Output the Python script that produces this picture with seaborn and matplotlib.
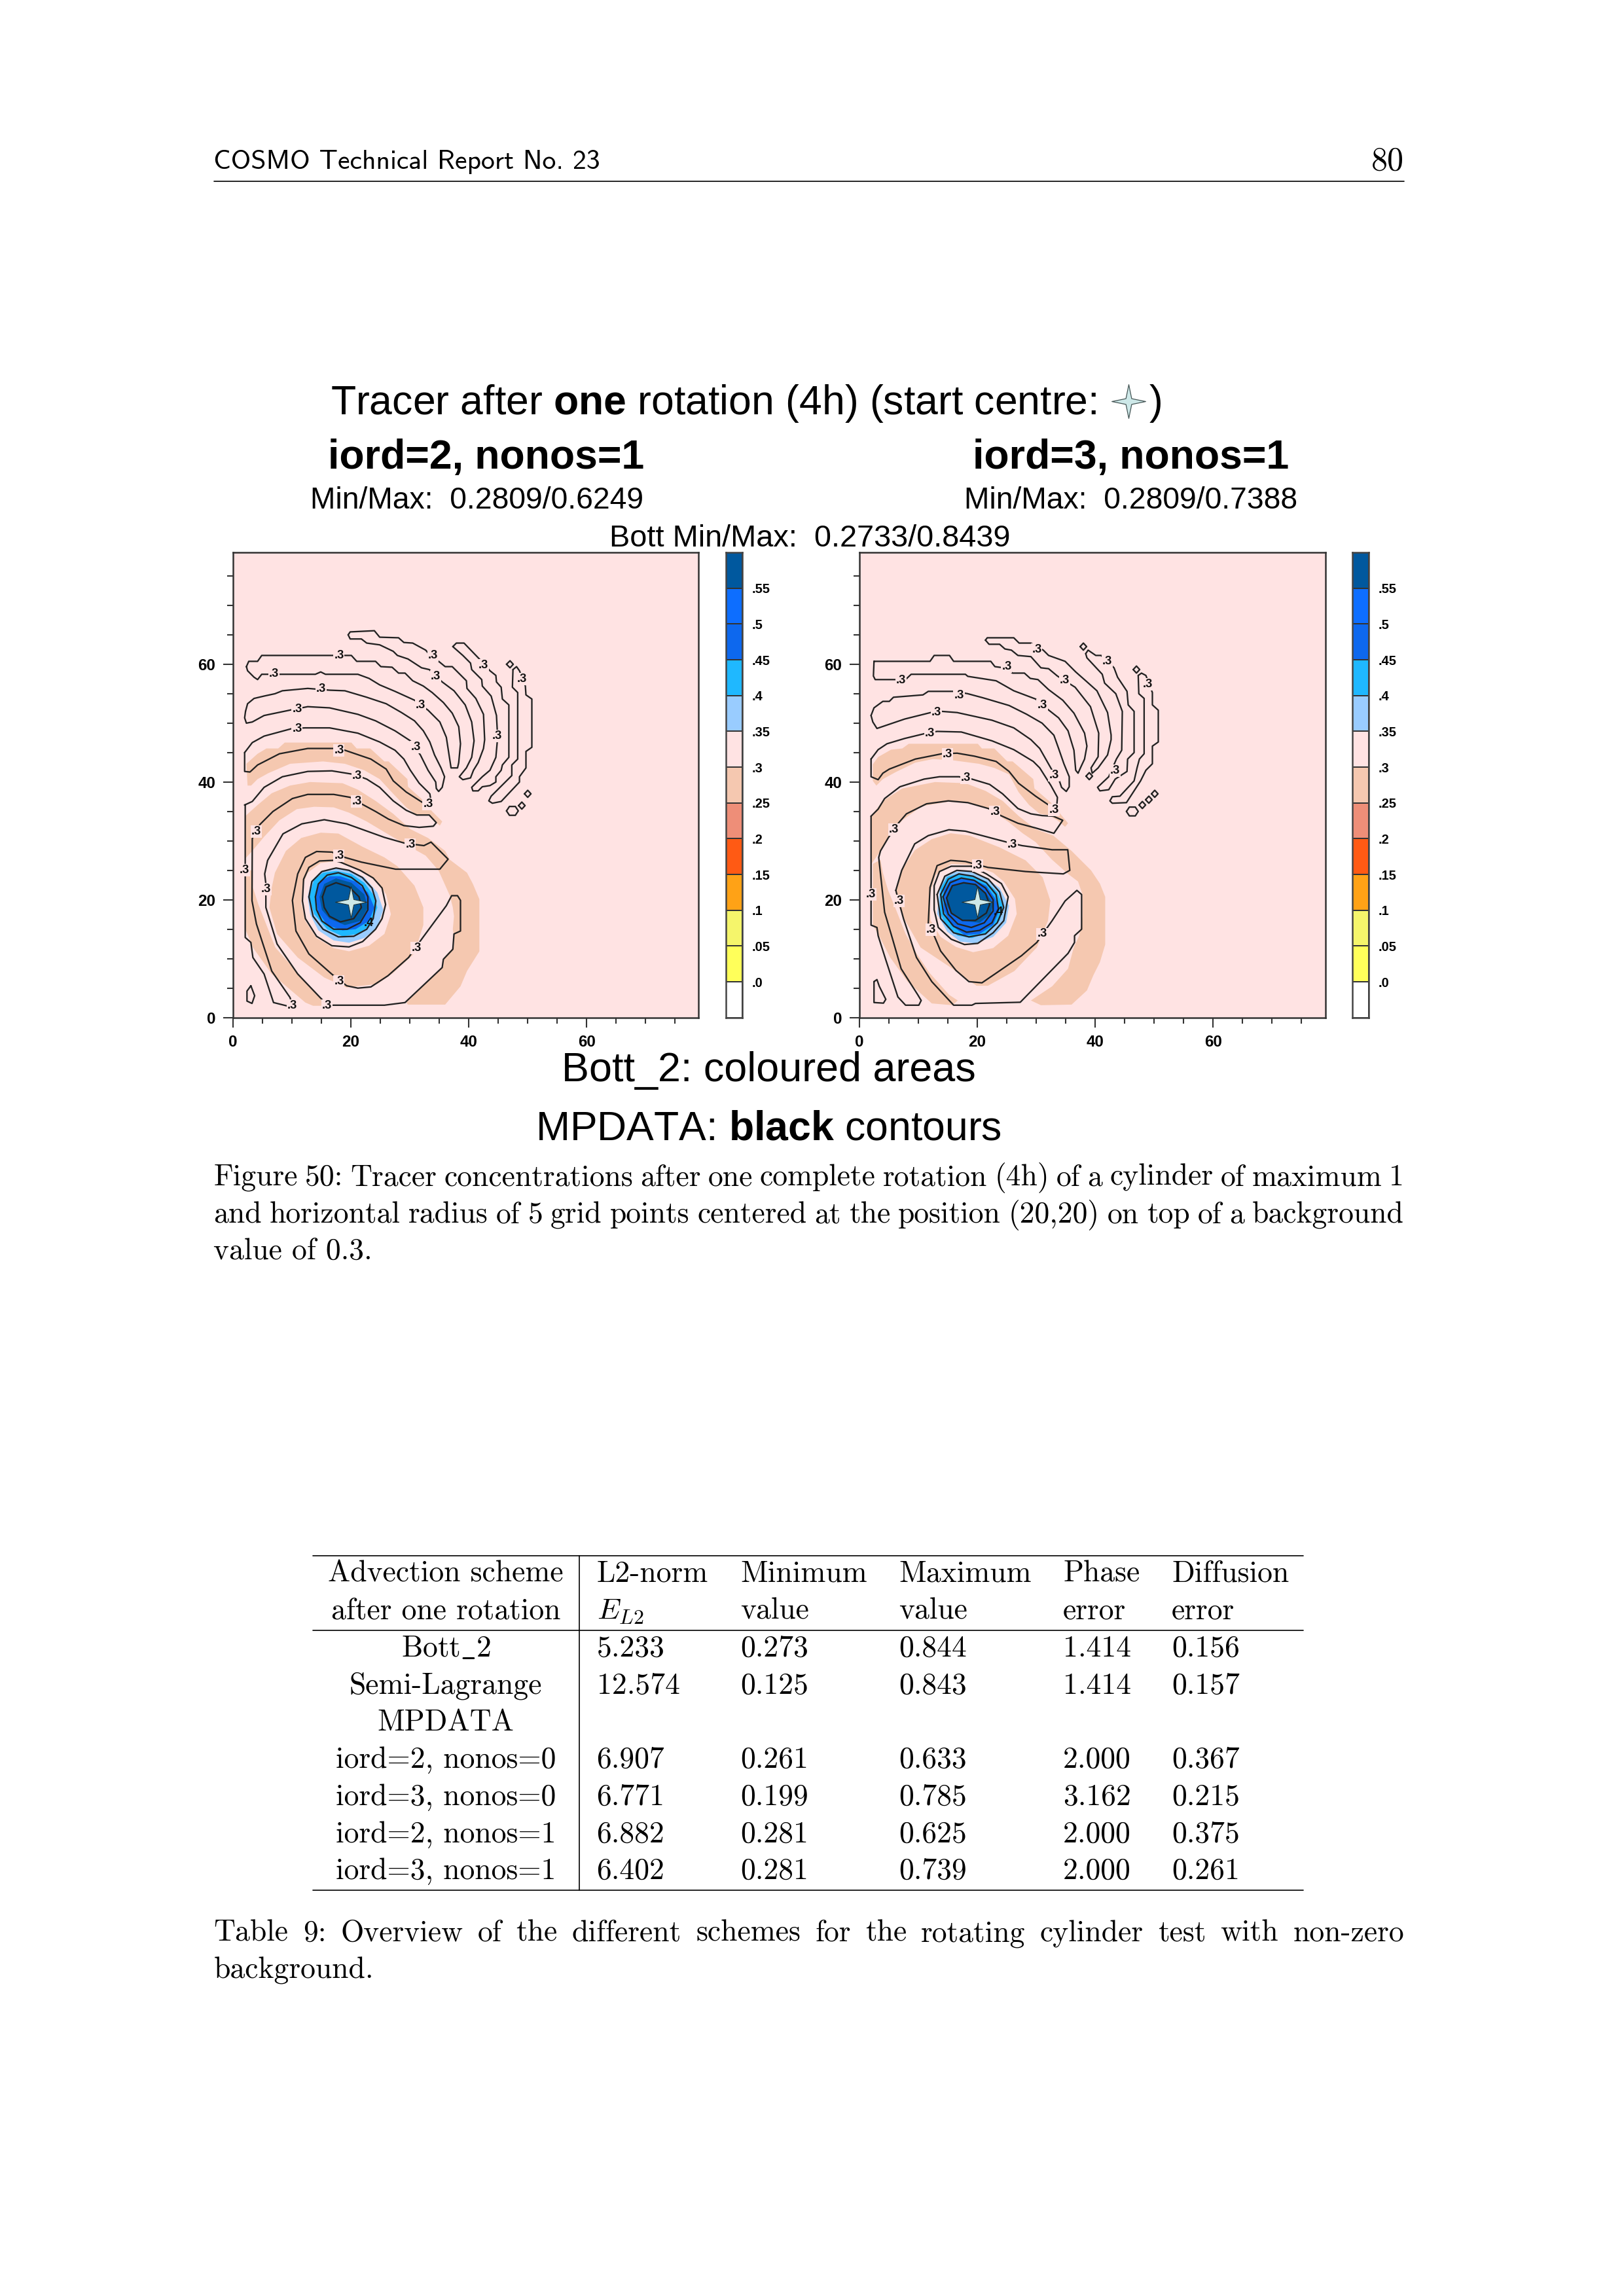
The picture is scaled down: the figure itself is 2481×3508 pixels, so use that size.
import numpy as np
import matplotlib
matplotlib.use("Agg")
import matplotlib.pyplot as plt
import seaborn as sns
from matplotlib.colors import ListedColormap
from matplotlib.lines import Line2D
from matplotlib.path import Path

W, H = 2481, 3508

# colour levels of the shaded field, lowest first
level_labels = [".0", ".05", ".1", ".15", ".2", ".25", ".3", ".35", ".4", ".45", ".5", ".55"]
level_colors = ["#FFFFFF", "#FFFF5A", "#F5F56B", "#FFA216", "#FF5A14", "#EE8E78", "#F5C8B0",
                "#FFE3E3", "#99CCFF", "#1FB8FF", "#0D68EE", "#0D6EFF", "#00589E"]
PINK, PEACH = level_colors[7], level_colors[6]
LBLUE, CYAN, BLUE, DARK = level_colors[8], level_colors[9], level_colors[10], level_colors[12]

# ---- left panel (iord=2) ----
L_finger_a = [(19.55,65.0),(19.9,65.5),(24.0,65.7),(24.9,64.6),(28.1,64.5),(29.0,63.7),(30.5,63.6),(32.7,62.4),(33.3,61.7),(34.9,60.5),(36.0,59.6),(37.2,59.6),(39.6,57.2),(39.7,55.9),(41.2,54.2),(42.5,51.5),(42.7,47.2),(42.5,45.7),(41.6,43.3),(40.8,42.0),(40.3,40.7),(39.0,40.4),(38.4,40.9),(39.6,42.4),(40.5,44.2),(40.9,47.0),(40.5,50.2),(39.4,53.1),(37.5,55.5),(35.5,57.0),(33.3,59.1),(32.0,59.4),(29.7,60.9),(27.9,61.5),(27.2,62.2),(24.9,63.3),(22.7,63.6),(21.8,64.3),(19.9,64.3)]
L_finger_b = [(37.3,63.0),(37.9,63.6),(39.2,63.6),(41.8,60.9),(43.6,58.9),(44.6,58.1),(44.7,57.0),(45.5,56.1),(45.7,54.1),(46.8,53.1),(46.8,44.2),(45.7,42.9),(45.5,42.0),(44.6,40.9),(44.6,40.0),(43.6,39.4),(42.3,39.2),(41.6,38.5),(40.7,38.5),(40.5,39.1),(42.3,40.9),(43.6,42.0),(44.6,44.2),(44.9,47.6),(44.7,51.3),(43.8,54.6),(42.3,56.3),(42.2,57.4),(40.5,59.1),(40.3,60.2),(39.0,61.5)]
L_finger_c = [(47.5,59.1),(48.1,59.6),(48.6,58.9),(49.6,56.3),(49.7,54.8),(50.7,54.1),(50.7,45.9),(49.7,45.2),(49.7,42.4),(48.6,40.9),(48.6,40.0),(45.5,36.7),(44.0,36.4),(43.4,36.8),(43.8,37.6),(47.3,41.1),(47.3,42.9),(48.3,43.9),(48.3,55.2),(47.4,56.1)]
L_finger_d = [(2.3,59.6),(2.7,60.5),(4.2,60.5),(4.9,61.5),(17.0,61.5),(20.1,61.5),(21.0,60.5),(24.2,60.5),(25.1,59.6),(27.0,59.5),(28.1,58.5),(29.2,58.5),(30.5,57.2),(32.3,56.3),(33.8,55.2),(35.7,53.5),(37.2,51.7),(38.3,49.4),(38.6,46.5),(38.3,43.3),(38.1,42.4),(37.0,42.4),(36.6,45.0),(36.2,47.6),(35.1,50.2),(33.1,52.2),(30.8,53.9),(27.5,55.4),(24.9,56.5),(23.1,57.6),(21.2,58.3),(15.7,58.3),(14.9,58.7),(14.0,58.3),(7.9,58.3),(4.9,58.3),(4.2,57.4),(3.6,57.8),(2.5,58.9)]
L_finger_e = [(2.15,52.0),(2.5,53.3),(3.6,54.2),(5.3,54.6),(7.15,55.0),(8.4,55.5),(12.7,55.9),(16.4,55.6),(19.0,55.5),(22.7,54.4),(26.0,53.3),(28.6,51.8),(30.8,50.4),(32.3,48.7),(33.4,46.8),(34.2,44.6),(35.3,42.4),(35.9,40.9),(35.5,39.1),(34.9,38.4),(34.5,38.9),(34.4,40.0),(33.1,42.0),(31.8,44.6),(30.1,47.0),(27.5,48.7),(24.2,50.4),(21.2,51.5),(16.4,52.6),(12.7,52.8),(10.1,52.3),(5.3,51.3),(3.3,50.2),(2.3,50.0),(2.0,50.9)]
L_finger_f = [(2.0,45.0),(3.3,46.7),(5.3,47.8),(10.1,49.1),(12.3,49.2),(16.4,49.2),(21.2,48.3),(24.9,46.8),(27.5,45.4),(29.0,43.9),(30.1,42.0),(31.6,39.8),(33.4,38.0),(33.6,36.8),(33.1,36.3),(32.2,36.5),(29.4,38.3),(27.2,40.2),(26.0,42.2),(23.4,43.9),(19.0,45.4),(17.0,45.7),(12.7,45.7),(7.9,44.8),(4.2,42.9),(2.9,41.7),(2.0,41.8)]
L_finger_g = [(2.0,36.1),(3.3,36.7),(5.3,39.1),(8.4,40.9),(12.7,41.8),(16.8,41.9),(20.5,41.3),(22.7,40.5),(24.9,39.1),(27.2,36.8),(29.4,35.2),(31.2,34.4),(33.3,34.4),(34.5,33.1),(34.0,32.5),(31.6,32.3),(29.0,32.6),(26.4,33.7),(24.2,35.0),(21.8,36.3),(19.9,37.4),(17.1,37.9),(12.7,37.9),(10.1,37.2),(6.8,35.0),(4.6,32.8),(3.3,30.4),(3.25,19.85),(4.0,15.9),(6.6,7.9),(9.7,3.4),(10.1,2.0),(9.1,2.0),(6.9,2.55),(5.3,7.4),(3.4,10.2),(3.06,12.76),(2.1,13.6),(2.1,36.1)]
L_loop_h = [(5.6,22.7),(5.4,24.4),(5.9,26.7),(8.5,31.2),(11.7,32.9),(15.5,33.6),(19.3,32.9),(25.7,30.6),(29.2,29.6),(32.4,29.2),(33.6,29.8),(36.5,26.9),(35.1,25.2),(27.6,25.2),(21.8,26.4),(19.0,27.2),(16.8,28.1),(14.2,28.2),(12.3,27.2),(11.0,24.4),(10.1,19.9),(10.7,14.7),(12.9,10.8),(16.75,7.4),(19.3,5.4),(21.2,5.0),(23.4,5.2),(26.3,7.1),(29.8,10.2),(32.0,13.3),(36.2,19.0),(37.1,20.7),(38.1,20.7),(38.6,19.9),(38.6,14.7),(37.5,14.2),(37.3,11.6),(35.7,9.9),(35.5,8.5),(29.2,2.55),(25.7,2.1),(16.1,2.1),(14.8,3.4),(11.0,7.4),(7.5,12.5),(5.6,18.7)]
L_ring_i = [(17.1,26.7),(14.7,26.6),(12.9,25.5),(12.0,23.5),(11.8,19.8),(12.3,16.8),(14.2,13.8),(16.8,12.2),(19.7,12.0),(22.0,12.9),(24.2,15.0),(25.3,16.8),(25.9,19.2),(25.3,22.0),(23.8,23.7),(21.6,25.0),(18.2,26.4)]
L_ring_j = [(12.9,20.5),(13.4,23.1),(15.1,24.8),(17.5,25.4),(19.7,25.0),(21.95,23.8),(23.6,22.0),(24.25,19.8),(23.8,16.8),(22.7,15.0),(20.5,13.8),(17.9,13.7),(15.3,15.0),(13.6,17.2)]
L_ring_k = [(14.0,20.5),(14.5,22.7),(16.0,24.2),(17.9,24.6),(20.1,23.8),(21.95,22.4),(22.9,20.5),(22.9,18.3),(21.6,16.1),(19.4,15.0),(17.1,15.0),(15.1,16.4),(14.2,18.3)]
L_ring_l = [(15.2,20.5),(15.8,22.2),(17.5,22.9),(19.7,22.2),(21.4,20.5),(21.8,18.7),(20.5,16.8),(18.25,16.25),(16.4,17.2),(15.5,18.7)]
L_oval = [(3.06,5.4),(3.7,3.7),(3.25,2.4),(2.4,2.8),(2.4,4.5)]
L_dots = [(46.4,60.0),(47.0,60.6),(47.55,60.0),(47.0,59.4)], [(49.45,38.0),(50.0,38.6),(50.55,38.0),(50.0,37.4)], [(48.45,36.0),(49.0,36.6),(49.55,36.0),(49.0,35.4)], [(46.4,35.1),(46.9,35.85),(47.9,35.85),(48.4,35.1),(47.9,34.35),(46.9,34.35)]
L_contours = [L_finger_a, L_finger_b, L_finger_c, L_finger_d, L_finger_e, L_finger_f, L_finger_g,
              L_loop_h, L_ring_i, L_ring_j, L_ring_k, L_ring_l, L_oval, *L_dots]

L_peach_band = [(2.3,43.1),(4.2,44.8),(5.7,45.7),(7.7,45.7),(8.8,46.7),(20.1,46.7),(21.0,45.7),(23.3,45.7),(25.7,43.5),(26.4,43.5),(29.6,40.5),(29.7,39.2),(32.7,36.5),(33.8,35.0),(35.5,33.3),(35.1,32.6),(34.0,33.5),(33.3,34.4),(31.2,34.4),(29.4,35.7),(27.2,38.0),(24.9,40.5),(22.3,42.0),(19.0,43.1),(15.3,43.5),(9.7,43.1),(6.0,41.5),(4.2,40.5),(3.1,39.4),(2.5,39.4)]
L_peach_arc = [(2.1,34.2),(4.2,36.1),(6.6,38.1),(9.7,39.4),(13.1,40.0),(18.6,39.8),(21.2,38.7),(24.2,36.8),(27.2,34.6),(30.1,32.0),(33.1,30.5),(36.0,28.3),(36.8,26.8),(39.7,24.6),(40.7,22.7),(41.8,20.1),(41.8,11.25),(39.7,7.9),(38.6,5.3),(36.0,2.2),(29.7,2.2),(29.4,2.55),(35.7,8.7),(35.7,10.1),(37.5,12.0),(37.5,13.8),(37.3,15.0),(37.5,17.2),(37.3,18.7),(36.8,20.7),(34.9,24.95),(32.7,27.5),(28.6,29.8),(25.7,31.5),(22.7,33.3),(19.7,34.8),(17.1,35.7),(13.8,35.8),(10.85,35.4),(7.9,33.5),(5.3,30.7),(3.3,28.3),(2.1,27.0)]
L_peach_side = [(2.1,25.0),(2.0,15.3),(3.4,11.9),(6.6,7.4),(12.3,2.55),(13.6,2.0),(16.75,2.0),(15.2,3.1),(11.7,6.8),(7.2,11.9),(4.3,19.3),(3.4,22.1),(3.4,25.0)]
L_peach_core = [(6.6,22.1),(6.2,18.7),(7.5,14.2),(11.0,10.2),(15.5,6.8),(19.3,5.1),(24.5,5.7),(27.1,7.5),(30.8,10.9),(32.3,15.7),(32.3,18.7),(30.8,22.4),(27.9,25.7),(25.7,27.2),(22.0,29.0),(17.9,31.25),(14.9,31.4),(11.6,30.5),(9.0,28.3),(7.14,24.6)]
L_pink_hole = [(11.8,22.4),(12.7,24.6),(14.9,26.25),(17.9,26.6),(21.6,25.0),(24.5,23.1),(26.0,20.9),(26.8,17.55),(25.7,14.2),(23.1,12.2),(19.7,11.25),(17.1,11.8),(14.2,13.5),(12.3,16.4),(11.6,19.4)]
L_lblue = [(12.7,20.5),(13.25,23.1),(14.9,24.8),(17.1,25.4),(19.7,25.1),(22.3,23.8),(24.5,21.25),(25.5,18.3),(24.5,15.3),(22.3,13.5),(19.7,12.7),(17.1,13.1),(14.5,14.8),(13.1,17.55)]
L_cyan = [(12.9,20.5),(13.8,23.5),(15.3,24.6),(17.5,24.9),(20.1,24.4),(22.3,22.9),(23.8,20.9),(24.5,18.7),(23.4,15.7),(21.2,14.2),(18.6,13.8),(16.0,15.0),(13.8,17.55)]
L_blue = [(14.0,20.5),(14.7,23.1),(16.4,24.0),(18.25,24.0),(20.8,23.1),(22.9,21.25),(24.0,18.7),(23.1,16.4),(20.8,15.0),(18.6,14.8),(16.0,15.7),(14.5,17.9)]
L_dark = [(14.7,20.5),(15.5,22.7),(17.5,23.65),(20.1,22.9),(22.3,20.9),(22.9,18.7),(21.6,16.4),(19.0,15.7),(16.4,16.8),(15.1,18.3)]
L_fills = [(L_peach_band, PEACH), (L_peach_arc, PEACH), (L_peach_side, PEACH), (L_peach_core, PEACH),
           (L_pink_hole, PINK), (L_lblue, LBLUE), (L_cyan, CYAN), (L_blue, BLUE), (L_dark, DARK)]

L_labels = [(18.0,61.5),(33.95,61.5),(42.5,59.8),(49.0,57.5),(7.0,58.4),(34.4,57.9),(15.0,55.8),(31.85,53.0),(10.9,52.4),(44.8,47.8),(10.9,49.0),(31.0,45.9),(18.0,45.4),(21.1,41.0),(33.1,36.3),(21.0,36.7),(4.0,31.6),(30.1,29.4),(18.0,27.5),(2.0,25.0),(5.6,21.8),(31.1,11.8),(18.0,6.1),(10.1,2.0),(16.0,2.0)]
L_label_4 = (23.1, 16.0)

# ---- right panel (iord=3) ----
R_finger_a = [(21.4,64.1),(21.7,64.5),(26.2,64.5),(27.1,63.6),(29.1,63.6),(31.2,62.4),(32.1,61.5),(34.9,60.5),(36.7,58.7),(38.4,57.2),(40.3,55.5),(42.1,51.8),(42.7,48.0),(42.7,47.2),(42.1,44.6),(40.5,42.4),(39.5,41.5),(39.3,42.4),(40.5,44.3),(40.6,48.3),(39.2,52.8),(36.6,56.1),(33.6,58.0),(32.1,59.25),(30.8,59.4),(29.1,61.3),(26.9,61.5),(25.8,62.4),(24.7,62.6),(23.8,63.4),(22.0,63.4)]
R_finger_b = [(38.4,61.8),(38.8,62.4),(40.1,61.5),(41.0,61.5),(43.2,59.4),(43.8,57.8),(45.4,55.4),(45.6,53.1),(46.6,52.0),(46.6,45.0),(45.5,43.9),(45.4,41.8),(43.4,40.5),(42.3,38.7),(40.8,38.5),(40.4,39.1),(42.3,40.9),(43.6,43.9),(44.5,45.4),(44.6,52.0),(43.5,55.0),(41.6,56.8),(41.2,58.3),(38.6,61.1)]
R_finger_c = [(47.3,58.1),(47.85,58.5),(48.6,58.1),(49.7,55.2),(49.7,53.1),(50.7,52.2),(50.7,46.8),(49.7,46.1),(49.7,43.1),(48.6,42.0),(47.7,40.2),(45.3,36.5),(42.9,36.4),(42.5,36.8),(42.9,37.5),(44.2,37.6),(46.6,40.2),(47.1,42.4),(47.5,43.9),(48.3,44.8),(48.3,54.2),(47.4,55.0)]
R_finger_d = [(2.5,60.5),(12.0,60.5),(12.7,61.5),(15.3,61.5),(16.0,60.5),(22.3,60.5),(23.0,59.6),(24.5,59.4),(26.0,58.5),(28.0,58.5),(29.0,57.6),(30.3,57.4),(32.1,55.7),(34.5,53.9),(36.4,51.7),(38.2,48.3),(38.6,46.1),(38.2,43.9),(37.5,42.4),(37.1,41.5),(36.7,42.0),(36.4,45.4),(35.4,48.7),(33.8,50.9),(31.9,52.4),(29.9,54.1),(26.2,55.5),(23.2,57.2),(18.4,57.95),(18.0,58.3),(8.8,58.3),(7.85,57.4),(2.7,57.4),(2.4,58.0)]
R_finger_e = [(2.0,51.3),(2.5,52.6),(4.0,53.7),(5.1,53.7),(5.8,54.4),(10.8,54.8),(11.7,55.4),(16.2,55.4),(18.4,55.0),(21.0,54.3),(25.4,53.0),(28.4,51.5),(31.0,50.0),(33.0,47.95),(33.8,45.7),(34.7,43.1),(35.6,40.9),(35.6,39.2),(35.1,38.4),(34.3,39.1),(34.0,40.0),(32.7,42.0),(30.6,45.7),(29.1,47.2),(26.2,49.2),(22.5,50.5),(16.6,51.8),(14.0,52.0),(12.1,51.8),(7.7,50.7),(3.0,49.1),(2.3,50.2)]
R_finger_f = [(2.0,43.9),(3.2,45.5),(4.7,46.5),(7.7,47.4),(11.4,48.3),(13.2,48.6),(17.3,48.5),(22.5,47.0),(26.2,45.5),(29.5,43.5),(30.6,42.4),(32.5,39.4),(33.6,37.4),(33.5,36.1),(32.1,36.1),(29.9,37.6),(27.0,39.8),(25.4,41.8),(23.2,43.5),(19.5,44.4),(16.6,44.9),(14.0,44.8),(9.5,43.9),(5.1,42.2),(4.0,41.5),(3.2,40.4),(2.0,40.9)]
R_finger_g = [(2.0,34.2),(3.2,35.4),(4.3,37.2),(6.9,39.2),(11.0,40.5),(13.6,40.9),(16.9,40.9),(19.1,40.5),(22.1,39.6),(24.3,38.0),(26.9,35.5),(29.1,34.6),(31.0,34.3),(32.9,34.2),(34.5,33.5),(33.0,31.3),(29.9,32.2),(26.9,33.0),(24.0,34.3),(21.9,35.5),(18.4,36.5),(15.1,36.8),(11.4,36.3),(8.0,34.6),(6.7,33.1),(4.9,30.5),(3.6,28.3),(3.3,27.2),(4.3,17.9),(5.6,13.5),(7.1,8.3),(9.9,3.9),(10.5,2.9),(10.1,2.1),(7.85,2.1),(6.55,3.5),(4.5,9.8),(3.2,13.9),(3.0,15.3),(2.0,15.7),(2.0,28.3)]
R_loop_h = [(6.2,21.6),(7.2,25.0),(9.4,29.5),(11.7,30.9),(15.2,31.9),(18.0,31.65),(25.0,29.8),(27.6,29.2),(32.7,28.5),(35.35,28.5),(35.7,25.0),(34.6,24.4),(28.2,24.8),(21.8,25.5),(18.0,26.5),(15.5,26.7),(13.2,25.8),(12.0,22.1),(11.7,15.9),(12.7,13.9),(13.8,11.3),(16.4,8.0),(18.6,6.1),(20.8,5.9),(23.0,7.4),(27.5,10.5),(30.1,12.75),(32.7,16.45),(34.9,19.8),(36.9,21.6),(37.7,20.9),(37.7,15.0),(36.5,13.9),(36.5,12.75),(35.4,10.9),(27.3,2.6),(19.7,2.4),(19.1,2.1),(16.0,2.1),(12.3,6.1),(9.7,10.2),(7.5,16.8),(6.9,19.0)]
R_ring_i = [(19.0,25.7),(15.6,25.7),(13.6,24.8),(12.7,22.4),(12.7,18.3),(13.4,15.3),(15.6,13.3),(17.85,12.4),(20.1,12.6),(22.7,14.4),(24.5,16.45),(25.25,20.5),(24.1,22.75),(21.55,24.4)]
R_ring_1 = [(13.2,20.9),(14.5,24.0),(16.55,25.0),(19.1,24.8),(21.9,23.5),(23.8,21.3),(24.5,18.7),(23.4,16.1),(21.4,14.2),(18.6,13.7),(16.0,14.4),(13.8,16.8)]
R_ring_2 = [(13.8,20.9),(15.1,23.5),(16.9,24.4),(19.3,24.0),(21.55,22.9),(23.2,20.9),(23.6,18.5),(22.5,16.1),(20.4,14.8),(18.2,14.5),(16.0,15.5),(14.3,17.6)]
R_ring_3 = [(14.2,20.5),(15.4,22.9),(17.3,23.7),(19.5,23.3),(21.4,22.0),(22.7,20.0),(22.7,18.1),(21.2,16.1),(19.0,15.3),(16.7,15.9),(15.1,17.55)]
R_ring_4 = [(14.8,20.3),(15.8,22.4),(17.7,22.9),(19.7,22.6),(21.4,21.1),(22.1,19.2),(21.55,17.75),(19.7,16.5),(17.5,16.5),(15.6,17.75)]
R_corner = [(2.5,6.1),(3.0,6.45),(3.4,5.3),(4.5,3.1),(4.1,2.45),(2.5,2.55)]
R_dots = [(37.45,63.0),(38.0,63.6),(38.55,63.0),(38.0,62.4)], [(46.45,59.1),(47.0,59.7),(47.55,59.1),(47.0,58.5)], [(38.45,41.0),(39.0,41.6),(39.55,41.0),(39.0,40.4)], [(49.55,38.0),(50.1,38.6),(50.65,38.0),(50.1,37.4)], [(48.55,37.0),(49.1,37.6),(49.65,37.0),(49.1,36.4)], [(47.45,36.1),(48.0,36.7),(48.55,36.1),(48.0,35.5)], [(45.3,35.0),(45.8,35.75),(46.8,35.75),(47.3,35.0),(46.8,34.25),(45.8,34.25)]
R_contours = [R_finger_a, R_finger_b, R_finger_c, R_finger_d, R_finger_e, R_finger_f, R_finger_g,
              R_loop_h, R_ring_i, R_ring_1, R_ring_2, R_ring_3, R_ring_4, R_corner, *R_dots]

R_peach_band = [(2.3,43.0),(3.2,44.25),(5.4,45.5),(7.3,45.7),(8.4,46.5),(20.1,46.5),(20.8,45.7),(22.9,45.7),(25.1,43.5),(26.0,43.5),(29.5,40.5),(29.7,38.9),(32.5,36.5),(33.6,35.2),(35.4,33.0),(34.9,32.4),(33.6,33.5),(32.1,34.4),(30.6,34.6),(28.8,36.1),(27.0,38.3),(25.4,41.3),(22.9,42.4),(20.3,43.1),(15.8,43.7),(12.5,43.9),(9.5,43.3),(6.2,41.7),(4.0,40.5),(2.9,39.4),(2.3,40.2)]
R_peach_arc = [(2.0,34.2),(4.0,36.8),(7.3,38.9),(12.85,40.0),(18.0,39.8),(21.4,38.5),(24.3,36.8),(27.0,34.25),(29.9,32.0),(32.9,30.9),(36.0,28.3),(39.3,25.0),(40.8,22.75),(41.7,20.5),(41.7,12.4),(40.8,9.4),(39.7,7.2),(38.6,4.6),(36.0,2.2),(30.8,2.1),(29.1,2.9),(32.7,5.3),(35.4,8.3),(36.4,12.0),(37.3,13.9),(37.85,17.2),(37.85,20.9),(37.1,23.1),(35.4,24.4),(32.7,26.8),(29.9,29.8),(27.7,31.3),(25.4,33.15),(22.1,35.4),(18.4,36.5),(15.1,36.65),(10.6,35.9),(7.3,33.5),(5.1,30.9),(3.6,28.3),(2.0,26.0)]
R_peach_side = [(2.3,26.1),(2.3,15.7),(3.2,14.2),(5.25,10.2),(8.2,6.1),(12.3,2.4),(15.8,2.1),(16.7,2.9),(15.25,3.85),(11.9,7.6),(9.7,10.9),(7.85,14.2),(6.4,17.9),(4.9,21.6),(4.0,24.6),(3.6,26.8)]
R_peach_core = [(7.2,25.0),(9.4,28.4),(12.3,30.3),(15.5,31.3),(18.7,30.9),(23.8,28.9),(28.2,26.7),(31.1,23.8),(32.4,19.85),(32.0,16.45),(30.1,11.9),(26.3,7.9),(21.8,5.4),(19.9,5.4),(15.5,8.5),(10.4,11.9),(7.8,16.45),(6.2,19.85),(6.2,21.6)]
R_pink_hole = [(11.9,20.9),(13.0,24.2),(15.6,26.1),(19.3,25.9),(22.7,24.6),(24.5,23.1),(26.4,20.15),(26.7,17.6),(25.25,13.9),(22.7,11.8),(19.3,11.1),(16.4,12.0),(13.8,13.7),(12.1,16.45)]
R_lblue = [(13.6,22.0),(14.7,24.0),(16.4,24.8),(18.6,24.8),(21.55,23.7),(23.8,22.0),(25.4,19.0),(24.9,16.1),(22.7,13.7),(19.7,12.6),(17.1,12.9),(14.9,14.6),(13.2,17.6)]
R_cyan = [(13.8,22.0),(14.9,23.9),(16.7,24.4),(19.0,24.2),(21.55,23.1),(23.4,21.3),(24.5,18.7),(23.8,16.45),(21.7,14.4),(19.1,13.5),(16.7,13.9),(14.9,15.3),(13.6,17.9)]
R_blue = [(14.3,21.6),(15.4,23.3),(17.1,23.7),(19.3,23.5),(21.55,22.4),(23.0,20.3),(23.8,18.3),(22.7,15.7),(20.4,14.2),(17.85,14.0),(15.6,15.7),(14.3,18.3)]
R_dark = [(14.9,20.9),(15.6,22.4),(17.5,22.9),(19.7,22.6),(21.4,21.3),(22.7,19.4),(22.3,17.6),(20.4,16.1),(17.5,16.45),(15.6,17.55),(14.8,19.2)]
R_fills = [(R_peach_band, PEACH), (R_peach_arc, PEACH), (R_peach_side, PEACH), (R_peach_core, PEACH),
           (R_pink_hole, PINK), (R_lblue, LBLUE), (R_cyan, CYAN), (R_blue, BLUE), (R_dark, DARK)]

R_labels = [(30.1,62.5),(42.0,60.5),(48.9,56.6),(7.1,57.3),(25.0,59.6),(34.8,57.3),(16.9,54.7),(31.0,53.0),(13.1,51.8),(12.0,48.3),(15.0,44.7),(33.0,41.1),(43.4,41.9),(18.1,40.7),(33.0,35.3),(23.0,34.9),(5.9,31.9),(25.9,29.4),(20.1,25.8),(2.0,20.9),(6.7,19.85),(12.2,14.9),(31.0,14.2)]
R_label_4 = (23.6, 17.9)

start_centre = (20.0, 19.65)

# ---- table ----
table_schemes = [r"Bott$\_$2", "Semi-Lagrange", "MPDATA", "iord=2, nonos=0", "iord=3, nonos=0", "iord=2, nonos=1", "iord=3, nonos=1"]
table_l2 = ["5.233", "12.574", "", "6.907", "6.771", "6.882", "6.402"]
table_min = ["0.273", "0.125", "", "0.261", "0.199", "0.281", "0.281"]
table_max = ["0.844", "0.843", "", "0.633", "0.785", "0.625", "0.739"]
table_phase = ["1.414", "1.414", "", "2.000", "3.162", "2.000", "2.000"]
table_diff = ["0.156", "0.157", "", "0.367", "0.215", "0.375", "0.261"]

sns.set_theme(style="white")
plt.rcParams["font.family"] = ["Liberation Sans", "DejaVu Sans"]
plt.rcParams["text.color"] = "black"
plt.rcParams["xtick.color"] = "black"
plt.rcParams["ytick.color"] = "black"
plt.rcParams["mathtext.fontset"] = "custom"
plt.rcParams["mathtext.rm"] = "Liberation Sans"
plt.rcParams["mathtext.bf"] = "Liberation Sans:bold"

fig = plt.figure(figsize=(W / 300, H / 300), dpi=300, facecolor="white")

star = Path([(0, 1), (.17, .17), (1, 0), (.17, -.17), (0, -1), (-.17, -.17), (-1, 0), (-.17, .17), (0, 1)], closed=True)


def box(x0, x1, y0, y1):
    return [x0 / W, 1 - y1 / H, (x1 - x0) / W, (y1 - y0) / H]


def put(x, y, s, **kw):
    # x, y in page pixels, y is the baseline
    return fig.text(x / W, 1 - y / H, s, va="baseline", **kw)


def panel(x0, fills, contours, labels, label_4):
    ax = fig.add_axes(box(x0, x0 + 711.8, 844, 1554.7), facecolor=PINK)
    for poly, col in fills:
        ax.fill(*zip(*poly), color=col, lw=0, zorder=1)
    for line in contours:
        xs, ys = zip(*(line + line[:1]))
        sns.lineplot(x=list(xs), y=list(ys), sort=False, estimator=None, color="#222222", lw=0.55, ax=ax, zorder=3)
    sty = dict(fontsize=4.4, fontweight="bold", ha="center", va="center", color="#111111", zorder=4,
               bbox=dict(facecolor=PINK, edgecolor="none", pad=0.2))
    for lx, ly in labels:
        ax.text(lx, ly, ".3", **sty)
    sty["bbox"] = None
    ax.text(*label_4, ".4", **sty)
    sns.scatterplot(x=[start_centre[0]], y=[start_centre[1]], marker=star, s=11.5 ** 2, color="#CDE8E8",
                    edgecolor="#223333", linewidth=0.25, ax=ax, zorder=5)
    ax.set_xlim(0, 79)
    ax.set_ylim(0, 79)
    ax.set_xticks([0, 20, 40, 60])
    ax.set_yticks([0, 20, 40, 60])
    ax.set_xticks(np.arange(5, 80, 5), minor=True)
    ax.set_yticks(np.arange(5, 80, 5), minor=True)
    ax.tick_params(which="major", length=3.6, width=0.5, color="#333333", pad=2.8, labelsize=5.8, bottom=True, left=True)
    ax.tick_params(which="minor", length=2.2, width=0.5, color="#333333", bottom=True, left=True)
    for t in ax.get_xticklabels() + ax.get_yticklabels():
        t.set_fontweight("bold")
    for s in ax.spines.values():
        s.set_visible(True)
        s.set_color("#333333")
        s.set_linewidth(0.6)
    ax.set_xlabel("")
    ax.set_ylabel("")
    # colour key
    cax = fig.add_axes(box(x0 + 753.1, x0 + 778.3, 844, 1554.7))
    rows = np.arange(len(level_colors))[::-1].reshape(-1, 1)
    sns.heatmap(rows, cmap=ListedColormap(level_colors), cbar=False, ax=cax, linewidths=0.45,
                linecolor="#333333", xticklabels=False)
    cax.yaxis.tick_right()
    cax.set_yticks(np.arange(1, len(level_labels) + 1))
    cax.set_yticklabels(level_labels[::-1], rotation=0, fontsize=4.8, fontweight="bold")
    cax.tick_params(axis="y", length=0, pad=3.6)
    for s in cax.spines.values():
        s.set_visible(True)
        s.set_color("#444444")
        s.set_linewidth(0.6)


panel(355.7, L_fills, L_contours, L_labels, L_label_4)
panel(1312.7, R_fills, R_contours, R_labels, R_label_4)

# chart headings
put(505, 633, r"Tracer after $\mathbf{one}$ rotation (4h) (start centre:", fontsize=15)
fig.add_artist(Line2D([1723.6 / W], [1 - 613 / H], marker=star, markersize=12.4, markerfacecolor="#CDE8E8",
                      markeredgecolor="#445555", markeredgewidth=0.3, transform=fig.transFigure))
put(1756, 633, ")", fontsize=15)
put(501, 716, "iord=2, nonos=1", fontsize=15, fontweight="bold")
put(1486, 716, "iord=3, nonos=1", fontsize=15, fontweight="bold")
put(474, 776.7, "Min/Max:  0.2809/0.6249", fontsize=11.1)
put(1473, 776.7, "Min/Max:  0.2809/0.7388", fontsize=11.1)
put(931, 835, "Bott Min/Max:  0.2733/0.8439", fontsize=11.25)
put(858, 1652, "Bott_2: coloured areas", fontsize=15.1)
put(818, 1741.7, r"MPDATA: $\mathbf{black}$ contours", fontsize=15)

# page furniture in the report's LaTeX fonts
SERIF = "cmr10"
put(326.5, 258, "COSMO Technical Report No. 23", fontsize=10, family="cmss10")
put(2145, 260, "80", fontsize=12, family=SERIF, ha="right")
fig.add_artist(Line2D([326.5 / W, 2145 / W], [1 - 276.7 / H] * 2, color="black", lw=0.4))


def justified(line, y, x0=326.5, x1=2145):
    words = line.split()
    arts = [put(x0, y, w, fontsize=10.95, family=SERIF) for w in words]
    r = fig.canvas.get_renderer()
    widths = [a.get_window_extent(r).width for a in arts]
    gap = (x1 - x0 - sum(widths)) / (len(words) - 1)
    x = x0
    for a, w in zip(arts, widths):
        a.set_x(x / W)
        x += w + gap


justified("Figure 50: Tracer concentrations after one complete rotation (4h) of a cylinder of maximum 1", 1811)
justified("and horizontal radius of 5 grid points centered at the position (20,20) on top of a background", 1868)
put(326.5, 1924, "value of 0.3.", fontsize=10.95, family=SERIF)
justified("Table 9: Overview of the different schemes for the rotating cylinder test with non-zero", 2966)
put(326.5, 3023, "background.", fontsize=10.95, family=SERIF)

# table
col_x = [911.5, 1131, 1373, 1624, 1790]
head_top = ["L2-norm", "Minimum", "Maximum", "Phase", "Diffusion"]
head_bot = [None, "value", "value", "error", "error"]
for x, top, bot in zip(col_x, head_top, head_bot):
    put(x, 2416.7, top, fontsize=10.95, family=SERIF)
    if bot:
        put(x, 2474, bot, fontsize=10.95, family=SERIF)
put(911.5, 2474, r"$E_{L2}$", fontsize=10.95, math_fontfamily="cm")
put(681, 2416.7, "Advection scheme", fontsize=10.95, family=SERIF, ha="center")
put(681, 2474, "after one rotation", fontsize=10.95, family=SERIF, ha="center")
for i, row in enumerate(zip(table_schemes, table_l2, table_min, table_max, table_phase, table_diff)):
    y = 2531 + 56.7 * i
    put(681, y, row[0], fontsize=10.95, family=SERIF, ha="center", math_fontfamily="cm")
    for x, val in zip(col_x, row[1:]):
        put(x, y, val, fontsize=10.95, family=SERIF)
for y in (2376.7, 2490.7, 2888):
    fig.add_artist(Line2D([478 / W, 1991 / W], [1 - y / H] * 2, color="black", lw=0.4))
fig.add_artist(Line2D([884.7 / W] * 2, [1 - 2376.7 / H, 1 - 2888 / H], color="black", lw=0.4))

fig.savefig("out.png", dpi=300, facecolor="white")
